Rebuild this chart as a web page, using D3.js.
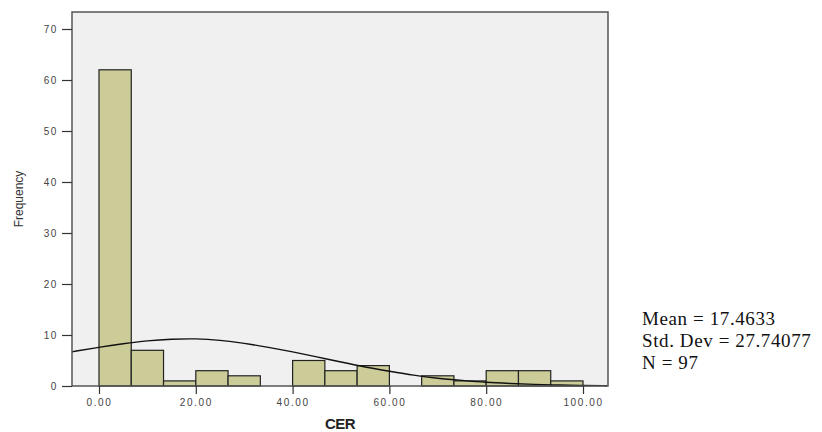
<!DOCTYPE html>
<html>
<head>
<meta charset="utf-8">
<script src="https://cdn.jsdelivr.net/npm/d3@7"></script>
<style>
  body { margin: 0; background: #fff; }
  svg { display: block; }
  .tick text { font-family: "Liberation Sans", Arial, sans-serif; font-size: 10px; fill: #444; letter-spacing: 1.6px; }
</style>
</head>
<body>
<svg id="chart" width="822" height="432"></svg>
<script>
// histogram of CER, 15 bins of width 100/15
const binCounts = [62, 7, 1, 3, 2, 0, 5, 3, 4, 0, 2, 1, 3, 3, 1];
const binWidth = 100 / 15;

// fitted normal curve
const curveX = [-5.6, 0, 5, 10, 15, 20, 25, 30, 35, 40, 45, 50, 55, 60, 65, 70, 75, 80, 85, 90, 95, 100, 105];
const curveY = [6.7, 7.6, 8.3, 8.9, 9.2, 9.3, 9.0, 8.4, 7.6, 6.7, 5.7, 4.7, 3.7, 2.9, 2.1, 1.5, 1.1, 0.7, 0.5, 0.3, 0.2, 0.1, 0.06];

const xTicks = [0, 20, 40, 60, 80, 100];
const yTicks = [0, 10, 20, 30, 40, 50, 60, 70];

const statLines = ["Mean = 17.4633", "Std. Dev = 27.74077", "N = 97"];

const svg = d3.select("#chart");
const frame = {left: 72, right: 608, top: 12, bottom: 386};

const x = d3.scaleLinear().domain([0, 100]).range([99, 583]);
const y = d3.scaleLinear().domain([0, 70]).range([386, 29]);

// plot area
svg.append("rect")
  .attr("x", frame.left).attr("y", frame.top)
  .attr("width", frame.right - frame.left).attr("height", frame.bottom - frame.top)
  .attr("fill", "#f0f0f0");

// bars
svg.append("g").selectAll("rect")
  .data(binCounts)
  .join("rect")
  .attr("x", (d, i) => x(i * binWidth))
  .attr("width", (d, i) => x((i + 1) * binWidth) - x(i * binWidth))
  .attr("y", d => y(d))
  .attr("height", d => y(0) - y(d))
  .attr("fill", "#cccc99")
  .attr("stroke", "#222")
  .attr("stroke-width", 1.2)
  .attr("display", d => d > 0 ? null : "none");

// normal curve
const line = d3.line()
  .x(d => x(d[0]))
  .y(d => y(d[1]))
  .curve(d3.curveBasis);
svg.append("path")
  .datum(curveX.map((v, i) => [v, curveY[i]]))
  .attr("d", line)
  .attr("fill", "none")
  .attr("stroke", "#111")
  .attr("stroke-width", 1.4);

// frame border
svg.append("rect")
  .attr("x", frame.left).attr("y", frame.top)
  .attr("width", frame.right - frame.left).attr("height", frame.bottom - frame.top)
  .attr("fill", "none")
  .attr("stroke", "#555")
  .attr("stroke-width", 1.5);

// axes
const xAxis = svg.append("g")
  .attr("transform", `translate(0,${frame.bottom})`)
  .call(d3.axisBottom(x).tickValues(xTicks).tickFormat(d3.format(".2f")).tickSize(8).tickPadding(5));
xAxis.select(".domain").remove();
xAxis.selectAll(".tick line").attr("stroke", "#333").attr("stroke-width", 1.2);

const yAxis = svg.append("g")
  .attr("transform", `translate(${frame.left},0)`)
  .call(d3.axisLeft(y).tickValues(yTicks).tickSize(10).tickPadding(4));
yAxis.select(".domain").remove();
yAxis.selectAll(".tick line").attr("stroke", "#333").attr("stroke-width", 1.2);

// axis titles
svg.append("text")
  .attr("x", (frame.left + frame.right) / 2)
  .attr("y", 429)
  .attr("text-anchor", "middle")
  .attr("font-family", "Liberation Sans, Arial, sans-serif")
  .attr("font-size", 15)
  .attr("font-weight", 600)
  .attr("letter-spacing", -0.6)
  .attr("fill", "#222")
  .text("CER");

svg.append("text")
  .attr("transform", "translate(23,199) rotate(-90)")
  .attr("text-anchor", "middle")
  .attr("font-family", "Liberation Sans, Arial, sans-serif")
  .attr("font-size", 12)
  .attr("fill", "#333")
  .text("Frequency");

// stats box
svg.append("g").selectAll("text")
  .data(statLines)
  .join("text")
  .attr("x", 642)
  .attr("y", (d, i) => 325 + i * 22)
  .attr("font-family", "Liberation Serif, Times New Roman, serif")
  .attr("font-size", 19)
  .attr("letter-spacing", 0.6)
  .attr("fill", "#111")
  .text(d => d);
</script>
</body>
</html>
